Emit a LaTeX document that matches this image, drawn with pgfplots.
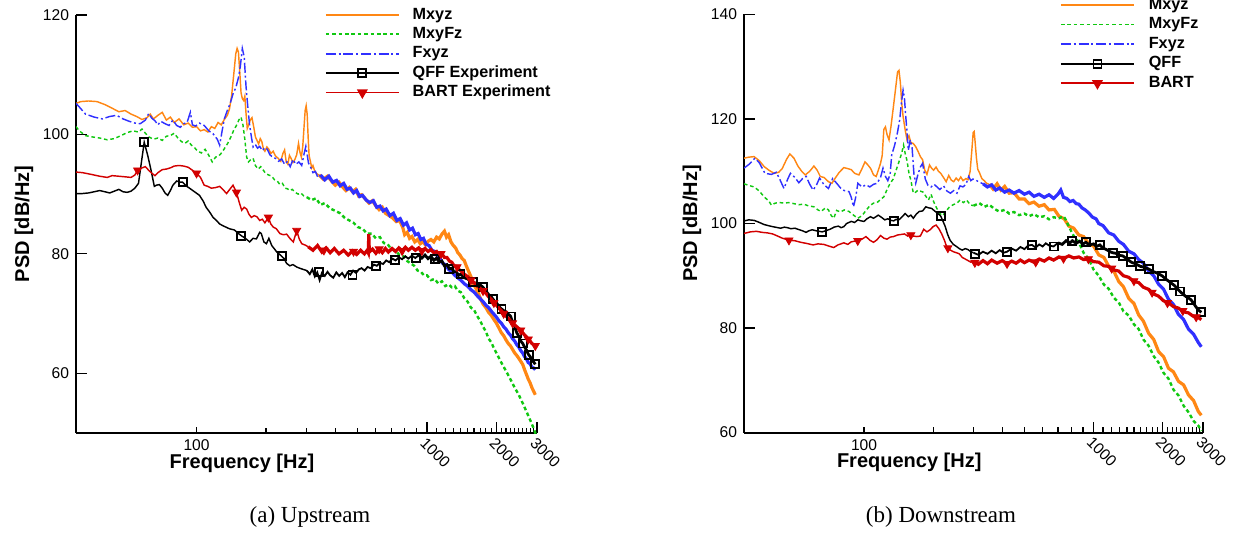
\documentclass[border=0pt]{standalone}
\usepackage{fontspec}
\setmainfont{Liberation Serif}
\newfontfamily\helv{Liberation Sans}
\usepackage{pgfplots}
\pgfplotsset{compat=1.18}
\definecolor{cOr}{RGB}{255,135,20}
\definecolor{cGr}{RGB}{16,200,16}
\definecolor{cBl}{RGB}{48,48,255}
\definecolor{cRd}{RGB}{210,0,0}
\tikzset{
  lthin/.style={line width=0.72pt},
  lleg/.style={line width=0.9pt},
  lmid/.style={line width=0.9pt},
  lthick/.style={line width=1.6pt},
  gdash/.style={dash pattern=on 1.8pt off 1.4pt},
  bdash/.style={dash pattern=on 5pt off 1.4pt on 1pt off 1.4pt},
}
\begin{document}
\begin{tikzpicture}
\useasboundingbox (0,0) rectangle (620pt,267.5pt);
%================ LEFT =================
\begin{axis}[at={(38pt,51pt)}, anchor=south west, width=230.5pt, height=209pt,
    scale only axis, xmode=log, xmin=30, xmax=3000,
    axis x line*=bottom, axis y line*=left,
    axis line style={line width=1pt, black},
    tick align=inside,
    major tick length=3pt, minor tick length=2.6pt,
    every tick/.style={black, line width=0.6pt},
    xtick={100}, xticklabels={100},
    extra x ticks={1000,2000,3000}, extra x tick labels={1000,2000,3000},
    extra x tick style={major tick length=5.5pt, xticklabel style={rotate=-45, anchor=north west, inner sep=1pt}},
    minor xtick={200,300,400,500,600,700,800,900,1100,1200,1300,1400,1500,1600,1700,1800,1900,2100,2200,2300,2400,2500,2600,2700,2800,2900},
    ymin=50, ymax=120,
    ytick=\empty,
    extra y ticks={60,80,100,120}, extra y tick labels={60,80,100,120},
    extra y tick style={major tick length=5.5pt},
    minor ytick={55,65,70,75,85,90,95,105,110,115},
    tick label style={font=\helv\fontsize{7.8}{9}\selectfont},
    xlabel={Frequency [Hz]}, ylabel={PSD [dB/Hz]},
    label style={font=\helv\bfseries\fontsize{10}{12}\selectfont},
    xlabel style={at={(axis description cs:0.36,0)}, anchor=center, yshift=-15pt},
    ylabel style={at={([xshift=-26pt]axis description cs:0,0.5)}, anchor=center},
    legend cell align=left,
    legend style={draw=none, fill=none, inner sep=0pt, outer sep=0pt, anchor=north west,
      at={(axis description cs:0.540,1.0187)},
      font=\helv\bfseries\fontsize{8.1}{9.6}\selectfont, row sep=1.9pt,
      nodes={inner sep=0pt, text height=6pt, text depth=1.8pt},
      /tikz/every odd column/.style={column sep=6.5pt}},
    legend image code/.code={\draw[mark repeat=2,mark phase=2,#1] plot coordinates {(0pt,0pt) (18.25pt,0pt) (36.5pt,0pt)};}]
% Mxyz
\addplot[cOr, lthin, forget plot] coordinates {(30,105.2)(31.5,105.5)(34,105.6)(37,105.5)(40,105.0)(43,104.4)(46,103.8)(49,104.0)(52,103.4)(55,103.0)(58,102.5)(61,102.8)(63,103.4)(65,102.6)(68,103.2)(71,103.7)(74,102.4)(77,102.9)(80,102.0)(84,102.6)(88,101.6)(92,101.9)(96,101.2)(100,101.3)(104,100.6)(108,100.8)(112,100.4)(116,101.3)(120,101.0)(124,102.0)(128,101.6)(132,102.5)(136,103.2)(139,104.3)(142,106.5)(145,110.0)(148,113.5)(150,114.4)(152,113.8)(154,110.5)(156,107.0)(158,106.0)(160,105.7)(162,106.4)(164,103.5)(166,101.0)(168,101.5)(171,102.4)(174,102.8)(177,101.3)(180,99.6)(183,99.0)(186,98.4)(189,99.3)(192,98.8)(195,97.6)(198,97.2)(202,97.9)(206,97.5)(210,96.8)(215,97.2)(220,96.4)(226,96.0)(232,95.5)(237,96.8)(241,97.4)(245,95.4)(249,95.0)(253,96.5)(257,96.0)(262,95.3)(267,95.8)(272,96.6)(277,98.5)(281,97.0)(285,96.2)(289,98.0)(293,101.5)(296,104.0)(299,104.8)(302,103.4)(305,99.5)(308,96.4)(312,95.5)(316,94.4)(320,94.8)(326,93.8)(333,93.4)(340,93.2)};
\addplot[cOr, lthick, forget plot] coordinates {(340,93.2)(355,92.5)(370,93.0)(385,92.2)(400,91.5)(415,92.0)(430,91.2)(445,90.6)(460,91.1)(475,90.4)(490,90.8)(505,89.7)(520,89.9)(540,89.2)(560,88.5)(580,88.9)(600,88.0)(620,87.4)(640,87.8)(660,86.8)(685,86.4)(710,86.0)(735,85.4)(760,85.6)(785,84.4)(800,83.2)(820,83.6)(840,82.6)(860,82.9)(885,82.0)(910,82.4)(935,81.7)(960,82.0)(985,81.5)(1010,82.1)(1040,82.4)(1070,82.0)(1100,82.8)(1130,82.5)(1160,83.3)(1190,83.8)(1215,82.8)(1240,83.2)(1270,82.0)(1300,81.4)(1330,81.0)(1360,80.2)(1390,79.8)(1420,79.2)(1450,78.9)(1480,78.0)(1510,77.2)(1550,76.2)(1590,75.0)(1630,74.2)(1670,73.4)(1710,72.4)(1750,71.6)(1800,71.0)(1850,70.2)(1900,69.7)(1950,69.0)(2000,68.4)(2050,67.6)(2100,66.8)(2150,66.3)(2200,65.6)(2250,65.0)(2300,64.6)(2350,64.0)(2400,63.4)(2450,63.0)(2500,62.5)(2550,62.0)(2600,61.5)(2650,60.6)(2700,59.8)(2750,59.0)(2800,58.4)(2850,57.6)(2900,57.0)(2950,56.4)};
% MxyFz
\addplot[cGr, lthin, gdash, forget plot] coordinates {(30,101.3)(31,100.6)(33,99.8)(35,99.6)(38,99.4)(41,99.1)(44,99.3)(47,99.8)(50,100.3)(53,100.6)(56,100.4)(58,100.9)(60,100.2)(62,99.6)(65,99.2)(68,99.4)(71,99.0)(74,99.7)(77,99.8)(80,100.2)(83,99.4)(86,98.8)(89,98.5)(92,98.9)(95,98.2)(98,97.8)(101,97.2)(105,96.9)(109,97.5)(113,96.5)(117,95.4)(121,96.2)(125,96.4)(129,97.0)(133,97.8)(137,98.6)(141,99.6)(145,100.7)(149,101.5)(153,102.5)(156,102.9)(159,101.6)(162,99.2)(165,96.2)(168,95.4)(172,95.8)(176,96.0)(180,94.8)(185,94.2)(190,94.6)(195,94.0)(200,93.4)(206,93.2)(212,93.0)(218,92.4)(224,92.2)(230,91.6)(236,91.8)(242,91.0)(248,90.9)(254,90.6)(260,90.8)(268,90.3)(276,90.0)(283,90.2)(292,89.7)(301,89.5)};
\addplot[cGr, line width=1.2pt, gdash, forget plot] coordinates {(301,89.5)(315,89.0)(330,89.3)(345,88.2)(360,88.5)(380,87.6)(400,87.2)(420,86.8)(440,86.0)(460,85.6)(480,85.2)(500,84.5)(525,84.2)(550,83.4)(575,83.4)(600,82.6)(625,82.8)(650,81.8)(675,81.6)(700,80.8)(730,80.5)(760,79.8)(790,79.6)(820,78.8)(850,78.4)(880,78.0)(910,77.2)(940,77.0)(970,76.4)(1000,76.4)(1040,75.6)(1080,75.8)(1120,75.0)(1160,75.4)(1200,74.6)(1240,74.9)(1280,74.4)(1320,74.6)(1360,73.8)(1400,73.6)(1450,72.6)(1500,72.0)(1550,71.0)(1600,70.6)(1650,69.6)(1700,68.8)(1750,67.8)(1800,67.0)(1850,65.8)(1900,65.2)(1950,64.2)(2000,63.4)(2100,61.8)(2200,60.4)(2300,59.0)(2400,57.6)(2500,56.4)(2600,55.0)(2700,53.6)(2800,52.2)(2900,50.8)(2950,50.0)(3000,49.4)};
% Fxyz
\addplot[cBl, lthin, bdash, forget plot] coordinates {(30,105.2)(31,104.6)(33,103.4)(36,102.9)(39,102.6)(42,103.0)(45,103.2)(48,102.6)(51,102.2)(54,101.9)(57,101.8)(60,102.4)(62,103.5)(64,102.7)(66,102.3)(68,101.6)(70,102.2)(73,101.8)(76,101.5)(79,102.4)(82,101.5)(85,101.2)(88,101.8)(91,102.0)(94,103.7)(96,101.6)(99,101.4)(103,101.9)(108,101.5)(113,100.6)(118,100.1)(123,99.2)(126,98.2)(129,100.5)(132,102.6)(136,104.0)(140,105.2)(144,106.8)(148,107.8)(152,109.5)(155,111.5)(158,114.4)(161,113.0)(164,108.0)(167,104.5)(170,101.5)(173,99.6)(176,97.9)(180,98.3)(184,97.7)(188,98.0)(193,97.3)(198,97.8)(203,97.5)(208,96.6)(214,96.2)(220,96.0)(227,95.5)(234,95.9)(241,95.0)(248,95.5)(255,94.6)(262,95.8)(270,95.0)(278,95.4)(286,94.8)(293,96.8)(298,98.0)(302,96.6)(306,95.2)(312,94.6)(320,93.6)(328,93.8)(336,92.8)(345,93.2)};
\addplot[cBl, lthick, forget plot] coordinates {(345,93.2)(360,92.4)(375,93.0)(390,92.0)(405,92.3)(420,91.4)(435,91.8)(450,90.8)(465,91.0)(480,90.2)(495,90.6)(510,89.6)(525,89.8)(545,89.0)(565,88.6)(585,88.9)(605,87.8)(625,88.0)(645,87.2)(665,87.5)(690,86.4)(715,86.8)(740,85.6)(765,85.9)(790,84.8)(815,85.2)(840,84.0)(865,84.3)(890,83.2)(915,83.4)(940,82.4)(965,82.6)(990,81.6)(1020,81.4)(1050,80.6)(1080,80.4)(1110,79.6)(1140,79.2)(1170,78.4)(1200,78.2)(1240,77.4)(1280,77.0)(1320,76.4)(1360,76.0)(1400,75.6)(1450,75.0)(1500,74.6)(1550,74.0)(1600,73.6)(1650,73.0)(1700,72.5)(1750,72.0)(1800,71.4)(1850,71.0)(1900,70.4)(1950,69.9)(2000,69.4)(2050,68.8)(2100,68.4)(2150,67.8)(2200,67.4)(2250,66.8)(2300,66.4)(2350,65.8)(2400,65.4)(2450,64.8)(2500,64.4)(2550,63.8)(2600,63.4)(2650,62.8)(2700,62.4)(2750,61.8)(2800,61.6)(2850,61.0)(2900,60.9)(2950,60.6)};
% QFF
\addplot[black, lthin, forget plot] coordinates {(30,90.1)(32,90.1)(34,90.2)(36,90.4)(38,90.6)(40,90.4)(42,90.2)(44,90.5)(46,90.8)(48,90.4)(50,90.3)(52,90.5)(54,91.0)(56,91.8)(57.5,95.0)(59.3,98.7)(61.4,96.5)(63.5,94.0)(65.6,91.3)(67,91.5)(69,91.6)(71,91.0)(73,90.2)(75,89.8)(77,90.6)(79,91.5)(82,92.2)(85,92.0)(87,92.0)(90,91.4)(94,90.9)(98,90.4)(103,89.8)(107,88.8)(110,87.8)(114,87.0)(118,86.1)(122,85.6)(126,85.0)(132,84.6)(139,84.2)(146,84.0)(152,83.4)(157,83.0)(163,82.6)(170,82.0)(176,82.6)(182,82.5)(188,83.6)(191,83.4)(196,82.0)(201,81.7)(206,82.6)(212,81.4)(218,80.8)(223,80.3)(228,80.0)(234,79.6)(240,79.2)(246,78.4)(254,78.0)(262,78.2)(272,77.8)(280,77.6)(290,77.4)(301,77.2)};
\addplot[black, lmid, forget plot] coordinates {(301,77.2)(310,76.6)(318,77.4)(326,76.2)(334,76.9)(342,75.6)(350,76.8)(360,76.3)(370,77.0)(380,76.4)(392,76.0)(404,76.9)(416,76.3)(428,76.8)(440,76.1)(452,76.9)(465,76.5)(478,77.2)(492,76.8)(506,77.4)(520,77.6)(536,77.2)(552,77.8)(570,77.6)(588,78.2)(606,78.0)(625,78.5)(645,78.3)(665,78.9)(686,78.6)(708,79.2)(730,78.9)(755,79.4)(780,79.1)(805,79.6)(830,79.2)(860,79.7)(890,79.3)(920,79.8)};
\addplot[black, line width=1.4pt, forget plot] coordinates {(920,79.8)(950,79.3)(980,79.8)(1010,79.2)(1040,79.6)(1070,78.9)(1100,79.3)(1130,78.6)(1160,78.8)(1190,78.0)(1220,78.2)(1250,77.5)(1280,77.6)(1310,77.0)(1340,77.0)(1370,76.4)(1400,76.6)(1450,76.0)(1500,75.8)(1550,75.4)(1600,75.2)(1650,74.8)(1700,74.8)(1750,74.4)(1800,73.8)(1850,73.2)(1900,72.8)(1950,72.2)(2000,71.8)(2050,71.2)(2100,70.8)(2150,70.5)(2200,70.3)(2250,69.9)(2300,69.6)(2350,68.6)(2400,67.8)(2450,66.8)(2500,66.2)(2550,65.4)(2600,65.0)(2650,64.4)(2700,63.9)(2750,63.2)(2800,62.8)(2850,62.2)(2900,61.9)(2950,61.5)};
\addplot[only marks, mark=square, mark size=2pt, mark options={black, line width=0.9pt}, forget plot] coordinates {(59.3,98.7)(87.1,92.0)(156.4,83.0)(234.7,79.6)(341,76.9)(475,76.5)(602,78.0)(725,79.0)(897,79.3)(1080,79.1)(1250,77.5)(1398,76.6)(1580,75.3)(1746,74.4)(1930,72.4)(2106,70.8)(2306,69.5)(2450,66.8)(2598,65.0)(2760,63.1)(2950,61.5)};
% BART
\addplot[cRd, lthin, forget plot] coordinates {(30,93.7)(32,93.6)(35,93.3)(38,93.0)(41,92.8)(43,93.1)(46,93.0)(49,92.9)(52,92.8)(54,93.2)(55.5,94.0)(58,94.4)(60,94.6)(62,94.0)(64,93.5)(66,93.1)(68,93.6)(71,94.1)(74,94.2)(77,94.4)(80,94.7)(84,94.8)(88,94.7)(92,94.5)(96,94.0)(100,93.5)(104,92.8)(108,91.5)(112,91.3)(116,91.0)(121,91.1)(126,91.3)(130,90.8)(135,90.1)(140,90.9)(144,91.5)(149,90.3)(153,88.7)(157,87.3)(161,87.8)(165,87.5)(169,86.6)(173,86.1)(178,86.4)(183,86.2)(188,85.6)(193,85.8)(198,85.2)(205,86.1)(210,85.0)(215,84.5)(222,84.2)(230,83.4)(238,83.2)(246,83.3)(254,82.6)(263,82.0)(272,83.9)(279,82.5)(286,81.7)(295,81.5)(305,81.2)};
\addplot[cRd, lthick, forget plot] coordinates {(305,81.2)(320,80.6)(335,81.4)(350,80.3)(365,81.0)(380,80.2)(396,80.9)(415,80.0)(435,80.6)(455,79.8)(475,80.5)(495,79.9)(515,80.6)(535,80.0)(550,80.6)(556,80.2)(559,83.3)(562,80.3)(580,80.8)(600,80.1)(620,80.8)(640,80.2)(660,80.9)(680,80.3)(705,80.9)(730,80.4)(755,81.0)(780,80.5)(805,81.1)(830,80.6)(860,81.1)(890,80.6)(920,81.0)(950,80.5)(980,80.9)(1010,80.4)(1040,80.7)(1070,80.2)(1100,80.4)(1130,79.8)(1160,80.0)(1190,79.4)(1220,79.4)(1250,78.8)(1280,78.6)(1310,78.0)(1340,77.9)(1370,77.4)(1400,77.2)(1450,76.6)(1500,76.2)(1550,75.6)(1600,75.2)(1650,74.6)(1700,74.2)(1750,73.8)(1800,73.4)(1850,72.8)(1900,72.4)(1950,71.8)(2000,71.4)(2050,70.9)(2100,70.5)(2150,70.0)(2200,69.6)(2250,69.2)(2300,68.8)(2350,68.4)(2400,68.1)(2450,67.8)(2500,67.5)(2550,67.2)(2600,66.8)(2650,66.4)(2700,66.1)(2750,65.7)(2800,65.4)(2850,65.0)(2900,64.8)(2950,64.6)};
\addplot[only marks, mark=triangle*, mark size=2.3pt, mark options={cRd, rotate=180}, forget plot] coordinates {(55.5,94.0)(100,93.5)(149,90.3)(205,86.1)(272,83.9)(357,80.6)(480,80.4)(620,80.8)(780,80.5)(950,80.5)(1150,80.0)(1350,77.8)(1550,75.6)(1750,73.8)(1950,71.8)(2150,70.0)(2350,68.4)(2550,67.2)(2750,65.7)(2950,64.6)};
\addlegendimage{cOr, lleg}\addlegendentry{Mxyz}
\addlegendimage{cGr, lleg, gdash}\addlegendentry{MxyFz}
\addlegendimage{cBl, lleg, bdash}\addlegendentry{Fxyz}
\addlegendimage{black, lleg, mark=square, mark size=2pt, mark options={solid, line width=0.9pt}}\addlegendentry{QFF Experiment}
\addlegendimage{cRd, lleg, mark=triangle*, mark size=2.3pt, mark options={solid, rotate=180}}\addlegendentry{BART Experiment}
\end{axis}
%================ RIGHT =================
\begin{axis}[at={(372pt,51.25pt)}, anchor=south west, width=229.5pt, height=209pt,
    scale only axis, xmode=log, xmin=30, xmax=3000,
    axis x line*=bottom, axis y line*=left,
    axis line style={line width=1pt, black},
    tick align=inside,
    major tick length=3pt, minor tick length=2.6pt,
    every tick/.style={black, line width=0.6pt},
    xtick={100}, xticklabels={100},
    extra x ticks={1000,2000,3000}, extra x tick labels={1000,2000,3000},
    extra x tick style={major tick length=5.5pt, xticklabel style={rotate=-45, anchor=north west, inner sep=1pt}},
    minor xtick={200,300,400,500,600,700,800,900,1100,1200,1300,1400,1500,1600,1700,1800,1900,2100,2200,2300,2400,2500,2600,2700,2800,2900},
    ymin=60, ymax=140,
    ytick=\empty,
    extra y ticks={60,80,100,120,140}, extra y tick labels={60,80,100,120,140},
    extra y tick style={major tick length=5.5pt},
    minor ytick={65,70,75,85,90,95,105,110,115,125,130,135},
    tick label style={font=\helv\fontsize{7.8}{9}\selectfont},
    xlabel={Frequency [Hz]}, ylabel={PSD [dB/Hz]},
    label style={font=\helv\bfseries\fontsize{10}{12}\selectfont},
    xlabel style={at={(axis description cs:0.36,0)}, anchor=center, yshift=-15pt},
    ylabel style={at={([xshift=-26pt]axis description cs:0,0.5)}, anchor=center},
    legend cell align=left,
    legend style={draw=none, fill=none, inner sep=0pt, outer sep=0pt, anchor=north west,
      at={(axis description cs:0.6885,1.0414)},
      font=\helv\bfseries\fontsize{8.1}{9.6}\selectfont, row sep=2pt,
      nodes={inner sep=0pt, text height=6pt, text depth=1.8pt},
      /tikz/every odd column/.style={column sep=7pt}},
    legend image code/.code={\draw[mark repeat=2,mark phase=2,#1] plot coordinates {(0pt,0pt) (18.25pt,0pt) (36.5pt,0pt)};}]
% Mxyz
\addplot[cOr, lthin, forget plot] coordinates {(30,112.5)(31.5,112.7)(33.2,112.8)(35,112.0)(36.7,110.9)(38.5,110.2)(40.6,109.6)(42.5,109.8)(44,110.5)(46,112.3)(47.5,113.3)(49.5,112.5)(51.5,111.0)(53.5,110.0)(55.5,109.3)(58,110.0)(60.5,111.0)(62.5,110.2)(64.5,109.0)(67,108.8)(70,108.0)(72.5,107.7)(75.5,108.9)(78,109.8)(81.7,110.7)(85,110.5)(88,110.3)(91,109.6)(95,109.3)(98,110.5)(101,111.8)(104,111.2)(107,110.5)(110,109.3)(113,109.0)(116,110.5)(118,111.5)(120,113.0)(122,118.0)(124,118.5)(126,117.0)(128.5,116.0)(131,118.5)(134,122.0)(137,125.5)(140,129.0)(142,129.3)(144,127.0)(146,123.0)(148,120.5)(151,118.0)(154,116.0)(157,116.8)(160,115.5)(164,115.3)(168,114.7)(172,113.8)(176,112.8)(180,112.2)(184,110.2)(188,109.4)(193,111.2)(197,110.6)(201,110.2)(206,110.8)(211,110.0)(216,109.6)(222,108.8)(228,108.0)(234,109.2)(240,108.3)(246,108.0)(252,108.7)(258,108.2)(264,108.9)(270,108.2)(278,108.6)(284,108.4)(290,110.0)(295,114.0)(299,117.4)(302,117.6)(305,115.5)(309,112.5)(313,110.4)(318,109.8)(326,108.6)(334,108.2)(342,107.7)(351,107.5)};
\addplot[cOr, lthick, forget plot] coordinates {(351,107.5)(365,106.6)(380,107.6)(395,106.4)(410,107.1)(429,105.8)(450,105.9)(474,104.7)(500,104.7)(524,103.8)(550,104.1)(579,103.3)(610,103.6)(640,102.6)(675,102.7)(707,101.4)(745,100.9)(781,99.5)(820,99.1)(863,97.8)(905,97.5)(954,96.1)(1000,95.7)(1054,94.0)(1110,93.5)(1165,91.8)(1225,90.9)(1288,88.9)(1350,87.9)(1423,85.7)(1500,84.7)(1573,82.5)(1650,81.3)(1738,79.0)(1830,77.8)(1920,75.5)(2020,74.5)(2122,72.3)(2230,71.6)(2345,69.8)(2470,69.1)(2592,67.2)(2730,66.1)(2864,64.0)(2950,63.3)};
% MxyFz
\addplot[cGr, lthin, gdash, forget plot] coordinates {(30,107.6)(32,107.2)(33.2,107.0)(35,106.2)(36.7,105.1)(38.5,104.3)(39.5,103.5)(41,103.9)(43,104.0)(44.8,103.9)(47,104.0)(49.5,103.8)(52,103.6)(54.7,103.7)(57,103.4)(60.5,103.2)(63,102.6)(65,102.3)(68,103.0)(70,102.6)(72,101.5)(73.8,101.0)(76,102.5)(79,102.2)(82,102.6)(86,102.3)(90,101.6)(94,101.0)(98,101.5)(102,102.5)(106,103.4)(110,103.9)(114,104.0)(118,104.6)(122,105.1)(126,106.5)(130,107.7)(134,108.5)(138,110.2)(142,111.8)(146,113.5)(148.7,115.0)(151,113.5)(154,112.0)(157,109.6)(160,108.3)(164,105.8)(168,106.0)(172,106.4)(176,106.2)(181,106.0)(186,105.2)(191,104.5)(196,105.6)(201,104.2)(207,103.0)(213,102.0)(220,101.5)(228,102.4)(236,103.2)(245,103.6)(254,103.9)(262,104.5)(271,104.0)(280,104.5)(290,103.6)(300,103.4)};
\addplot[cGr, line width=1.2pt, gdash, forget plot] coordinates {(300,103.4)(318,103.9)(335,103.2)(351,103.6)(370,102.8)(388,102.3)(410,102.6)(429,101.9)(450,102.2)(474,101.6)(500,101.9)(524,101.4)(550,101.8)(579,101.2)(610,101.4)(640,100.8)(670,101.2)(707,101.0)(740,101.4)(760,100.6)(781,99.4)(820,97.6)(863,96.4)(905,94.4)(954,93.2)(1000,91.2)(1054,90.0)(1110,88.3)(1165,87.5)(1225,85.8)(1288,84.9)(1350,83.2)(1423,82.4)(1500,80.7)(1573,79.8)(1650,77.8)(1738,76.6)(1830,74.6)(1920,73.4)(2020,71.4)(2122,70.3)(2230,68.2)(2345,67.1)(2470,65.1)(2592,63.9)(2730,62.2)(2864,61.3)(2950,60.3)};
% Fxyz
\addplot[cBl, lthin, bdash, forget plot] coordinates {(30,110.6)(31.5,111.3)(33.5,112.5)(35,111.6)(37,109.6)(39.5,109.4)(41.5,109.8)(43,108.4)(44.8,106.7)(46.5,108.5)(47.8,109.6)(50,108.8)(52,107.8)(54,108.6)(56,109.0)(58,107.5)(60,106.4)(62,107.3)(64,108.7)(67,107.4)(70,106.7)(73,108.6)(76,107.7)(79,106.8)(82,106.3)(86,106.1)(88,105.0)(90,103.2)(92,105.0)(94,107.7)(98,107.0)(102,107.4)(106,107.0)(110,107.5)(114,107.7)(118,108.8)(121,110.6)(124,109.0)(127,108.2)(130,109.5)(132,113.1)(136,115.0)(140,117.5)(143,119.8)(145.5,123.0)(148,125.5)(150,124.0)(152,120.5)(154,117.5)(156,114.0)(159,116.0)(162,114.5)(165,109.5)(168,107.7)(172,109.5)(176,110.8)(180,111.5)(185,108.5)(190,107.3)(196,107.0)(202,107.5)(208,107.0)(214,106.5)(222,107.2)(230,106.2)(238,105.8)(246,106.3)(254,105.8)(262,107.2)(270,107.0)(278,107.5)(286,109.0)(292,108.2)(298,108.5)(305,108.4)(315,108.0)(330,107.6)};
\addplot[cBl, lthick, forget plot] coordinates {(330,107.6)(345,107.0)(360,107.4)(375,106.4)(390,106.8)(410,106.0)(429,106.4)(450,105.8)(474,106.3)(500,105.6)(524,106.0)(550,105.2)(579,105.6)(610,105.0)(640,105.5)(670,104.8)(700,105.6)(720,106.4)(740,105.0)(765,104.8)(790,104.2)(815,104.4)(840,103.8)(863,103.7)(890,103.0)(920,102.6)(954,102.0)(990,101.2)(1025,100.9)(1054,100.0)(1100,99.6)(1165,98.2)(1225,97.8)(1288,96.6)(1350,96.0)(1423,94.7)(1500,94.2)(1573,93.1)(1650,92.4)(1738,90.9)(1830,90.0)(1920,88.4)(2020,87.4)(2122,85.5)(2230,84.5)(2345,82.6)(2470,81.6)(2592,79.8)(2730,78.8)(2864,77.2)(2950,76.4)};
% QFF
\addplot[black, lthin, forget plot] coordinates {(30,100.5)(31.5,100.7)(33.2,100.6)(35,100.2)(36.7,99.8)(39,99.5)(41,99.3)(43.3,99.1)(45,99.3)(46.4,99.2)(48,99.0)(50,99.1)(51.5,98.9)(54,98.6)(55.9,98.3)(57.5,98.6)(59.4,98.8)(62,98.6)(65.7,98.4)(68,98.6)(71.2,98.9)(74,99.3)(77.3,99.5)(79.5,99.2)(81.7,99.4)(84,100.0)(88,100.4)(91,100.2)(94,100.7)(97,100.5)(100,100.4)(103,100.9)(106.6,101.3)(110,101.0)(115.4,101.6)(119,101.2)(123.1,100.7)(127,100.9)(131,100.6)(134.6,100.5)(138,100.8)(141,100.6)(146,101.2)(151,101.9)(156,101.3)(160,101.6)(164,101.0)(169,101.8)(174,102.3)(180,102.4)(186,103.2)(191,103.0)(197,102.9)(203,102.4)(209,102.0)(216,101.4)(222,100.2)(226,99.4)(231,98.0)(237,96.8)(245,96.0)(253,95.6)(260,95.2)(268,94.9)(276,95.2)(284,95.0)(292,94.6)(300,94.4)};
\addplot[black, lmid, forget plot] coordinates {(300,94.4)(315,94.0)(330,94.6)(345,94.2)(360,94.8)(375,94.3)(390,94.9)(405,94.4)(420,94.6)(440,95.2)(460,94.8)(480,95.5)(500,95.1)(520,95.8)(539,95.9)(560,95.4)(580,96.0)(600,95.6)(620,96.2)(640,95.8)(670,95.6)(700,96.3)};
\addplot[black, line width=1.4pt, forget plot] coordinates {(700,96.3)(730,96.0)(760,96.7)(790,96.3)(809,96.7)(840,96.2)(870,96.6)(900,96.1)(926,96.4)(960,95.9)(1000,96.1)(1030,95.6)(1065,95.9)(1100,95.3)(1140,95.0)(1180,94.6)(1212,94.4)(1250,94.3)(1300,93.9)(1342,93.8)(1400,93.2)(1460,92.6)(1520,92.3)(1600,91.8)(1670,91.6)(1738,91.3)(1800,90.9)(1870,90.6)(1930,90.3)(1990,90.0)(2060,89.4)(2150,88.8)(2243,88.2)(2310,87.6)(2379,87.0)(2450,86.5)(2530,86.0)(2600,85.7)(2660,85.4)(2730,84.7)(2800,84.0)(2870,83.4)(2950,83.0)};
\addplot[only marks, mark=square, mark size=2pt, mark options={black, line width=0.9pt}, forget plot] coordinates {(65.7,98.4)(134.6,100.5)(216,101.4)(304,94.2)(420,94.6)(539,95.9)(670,95.6)(809,96.7)(926,96.4)(1065,95.9)(1212,94.4)(1342,93.8)(1460,92.6)(1600,91.8)(1738,91.3)(1990,90.0)(2243,88.2)(2379,87.0)(2660,85.4)(2950,83.0)};
% BART
\addplot[cRd, lthin, forget plot] coordinates {(30,98.1)(32,98.4)(34,98.5)(36,98.3)(38,98.2)(40,98.0)(42,97.6)(44,97.2)(47.1,96.8)(50,96.7)(53,96.4)(56,96.2)(60,95.9)(63,96.1)(66.8,96.0)(70,95.7)(73.8,95.4)(77,95.9)(81.7,96.3)(85,96.0)(88,96.5)(93.9,96.7)(98,97.0)(102,97.5)(106,96.8)(110,96.4)(114,96.9)(118,97.7)(122,97.2)(126,97.0)(130,97.4)(134.6,97.5)(140,97.8)(145,97.9)(150,98.0)(155,97.6)(159,97.8)(164,97.6)(170,97.5)(176,97.6)(182,98.9)(188,98.4)(194,98.8)(200,99.4)(206,99.7)(212,99.0)(218,98.0)(224,96.8)(229,95.6)(236,95.0)(245,94.6)(253,94.4)(260,94.2)(268,93.5)(276,93.2)(284,92.9)(292,92.6)(300,92.8)};
\addplot[cRd, lthick, forget plot] coordinates {(300,92.8)(315,92.2)(330,92.9)(345,92.3)(360,93.0)(380,92.4)(400,92.9)(420,92.3)(440,92.8)(460,92.4)(480,93.0)(500,92.5)(524,93.0)(550,92.6)(580,93.2)(610,92.8)(640,93.4)(670,93.0)(707,93.6)(740,93.3)(781,93.8)(820,93.4)(863,93.6)(905,93.1)(954,93.2)(1000,92.7)(1054,92.6)(1110,91.9)(1165,91.8)(1225,91.1)(1288,90.9)(1350,90.0)(1423,89.7)(1500,88.9)(1573,88.7)(1650,87.8)(1738,87.4)(1830,86.5)(1920,86.1)(2020,85.2)(2122,84.8)(2230,84.1)(2345,83.8)(2470,83.1)(2592,82.9)(2730,82.2)(2864,82.0)(2950,81.6)};
\addplot[only marks, mark=triangle*, mark size=2.3pt, mark options={cRd, rotate=180}, forget plot] coordinates {(47.1,96.8)(93.9,96.7)(160,97.8)(232,95.3)(304,92.5)(420,92.3)(560,92.6)(740,93.3)(950,93.2)(1200,91.4)(1500,89.0)(1800,86.8)(2100,84.8)(2450,83.3)(2800,82.1)};
\addlegendimage{cOr, lleg}\addlegendentry{Mxyz}
\addlegendimage{cGr, lleg, gdash}\addlegendentry{MxyFz}
\addlegendimage{cBl, lleg, bdash}\addlegendentry{Fxyz}
\addlegendimage{black, lleg, mark=square, mark size=2pt, mark options={solid, line width=0.9pt}}\addlegendentry{QFF}
\addlegendimage{cRd, lleg, mark=triangle*, mark size=2.3pt, mark options={solid, rotate=180}}\addlegendentry{BART}
\end{axis}
\node[font=\fontsize{11.5}{14}\selectfont] at (155pt,9pt) {(a) Upstream};
\node[font=\fontsize{11.5}{14}\selectfont] at (470.5pt,9pt) {(b) Downstream};
\end{tikzpicture}
\end{document}
